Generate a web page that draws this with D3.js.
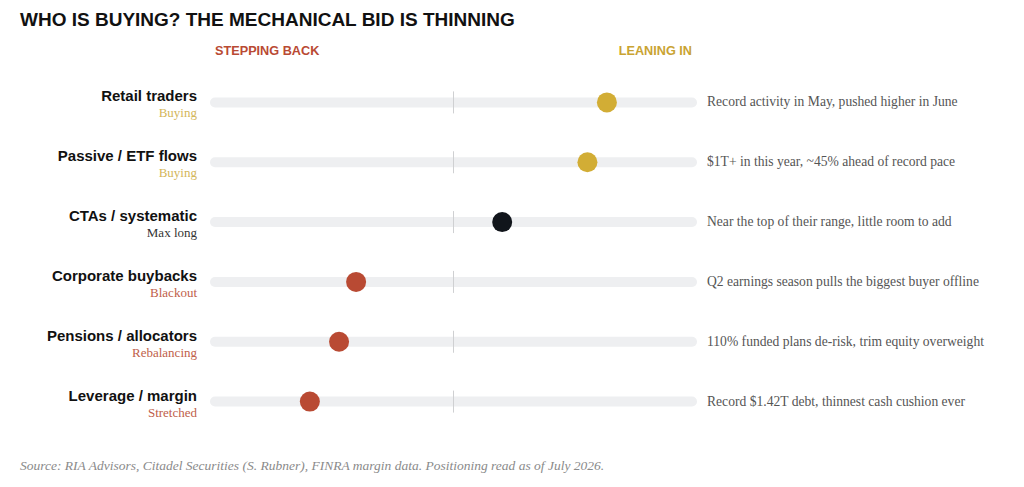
<!DOCTYPE html>
<html><head><meta charset="utf-8">
<script src="https://cdn.jsdelivr.net/npm/d3@7"></script>
<style>body{margin:0;background:#fff}svg{display:block}</style>
</head><body><svg id="c" width="1024" height="487"></svg>
<script>
const categories = ["Retail traders","Passive / ETF flows","CTAs / systematic","Corporate buybacks","Pensions / allocators","Leverage / margin"];
const statuses = ["Buying","Buying","Max long","Blackout","Rebalancing","Stretched"];
const positions = [63, 55, 20, -40, -47, -59];
const notes = ["Record activity in May, pushed higher in June","$1T+ in this year, ~45% ahead of record pace","Near the top of their range, little room to add","Q2 earnings season pulls the biggest buyer offline","110% funded plans de-risk, trim equity overweight","Record $1.42T debt, thinnest cash cushion ever"];
const tone = ["in","in","neutral","out","out","out"];

const svg = d3.select("#c");
const sans = "'Liberation Sans', Arial, sans-serif";
const serif = "'Liberation Serif', 'Times New Roman', serif";
const dotCol = {in:"#d2ad35", out:"#b94a33", neutral:"#11151b"};
const txtCol = {in:"#d4b65a", out:"#c0604a", neutral:"#333"};

const x = d3.scaleLinear().domain([-100,100]).range([210,697]);
const y = d3.scaleBand().domain(categories).range([72.5,431.5]);

svg.append("text").attr("x",20).attr("y",26).text("WHO IS BUYING? THE MECHANICAL BID IS THINNING")
  .attr("font-family",sans).attr("font-weight","bold").attr("font-size",19).attr("letter-spacing",0).attr("fill","#111");
svg.append("text").attr("x",x(-100)+5).attr("y",55).text("STEPPING BACK")
  .attr("font-family",sans).attr("font-weight","bold").attr("font-size",12.7).attr("fill","#b94a33");
svg.append("text").attr("x",x(100)-5).attr("y",55).attr("text-anchor","end").text("LEANING IN")
  .attr("font-family",sans).attr("font-weight","bold").attr("font-size",12.7).attr("fill","#c9a332");

const rows = svg.selectAll("g.row").data(categories).join("g").attr("class","row")
  .attr("transform",d=>`translate(0,${y(d)+y.bandwidth()/2})`);

rows.append("line").attr("x1",x(-100)+5).attr("x2",x(100)-5).attr("stroke","#eeeff1")
  .attr("stroke-width",10).attr("stroke-linecap","round");
rows.append("line").attr("x1",x(0)).attr("x2",x(0)).attr("y1",-11).attr("y2",11)
  .attr("stroke","#cfd0d2").attr("stroke-width",1);
rows.append("circle").attr("cx",(d,i)=>x(positions[i])).attr("r",10)
  .attr("fill",(d,i)=>dotCol[tone[i]]);
rows.append("text").attr("x",197).attr("y",-1).attr("text-anchor","end").text(d=>d)
  .attr("font-family",sans).attr("font-weight","bold").attr("font-size",15).attr("fill","#111");
rows.append("text").attr("x",197).attr("y",15).attr("text-anchor","end").text((d,i)=>statuses[i])
  .attr("font-family",serif).attr("font-size",13).attr("fill",(d,i)=>txtCol[tone[i]]);
rows.append("text").attr("x",707).attr("y",4).text((d,i)=>notes[i])
  .attr("font-family",serif).attr("font-size",13.6).attr("fill","#555");

svg.append("text").attr("x",20).attr("y",470)
  .text("Source: RIA Advisors, Citadel Securities (S. Rubner), FINRA margin data. Positioning read as of July 2026.")
  .attr("font-family",serif).attr("font-style","italic").attr("font-size",13.5).attr("fill","#8a8a8a");
</script></body></html>
